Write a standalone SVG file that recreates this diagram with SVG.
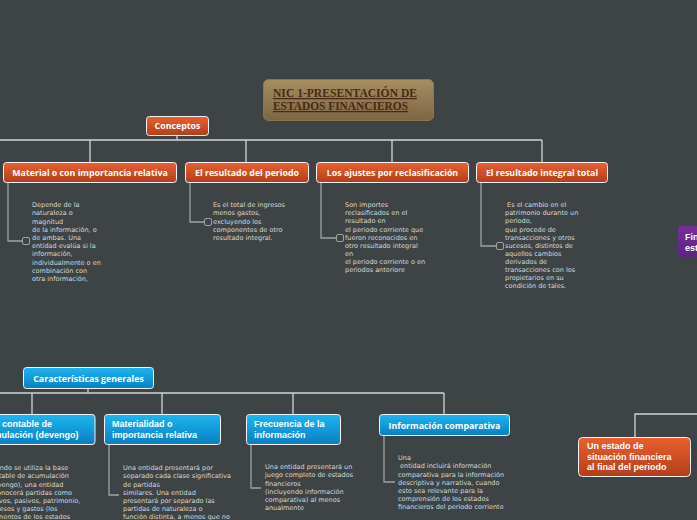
<svg xmlns="http://www.w3.org/2000/svg" width="697" height="520" viewBox="0 0 697 520">
<defs>
<linearGradient id="gOrange" x1="0" y1="0" x2="0" y2="1"><stop offset="0" stop-color="#ea6030"/><stop offset="1" stop-color="#b23e1a"/></linearGradient>
<linearGradient id="gBlue" x1="0" y1="0" x2="0" y2="1"><stop offset="0" stop-color="#1cb6f2"/><stop offset="1" stop-color="#0a7ec0"/></linearGradient>
<linearGradient id="gTan" x1="0" y1="0" x2="0" y2="1"><stop offset="0" stop-color="#a68e60"/><stop offset="1" stop-color="#7c6644"/></linearGradient>
<linearGradient id="gPurple" x1="0" y1="0" x2="0" y2="1"><stop offset="0" stop-color="#74309a"/><stop offset="1" stop-color="#5c2480"/></linearGradient>
<style>
.bg{fill:#3e4446}
.orange{fill:url(#gOrange);stroke:#f2f2f2;stroke-width:1}
.blue{fill:url(#gBlue);stroke:#f2f2f2;stroke-width:1}
.lbl{font-family:"Open Sans","Noto Sans",sans-serif;font-weight:bold;font-size:8.8px;fill:#ffffff}
.lbl2{font-family:"Liberation Sans",Arial,sans-serif;font-weight:bold;font-size:9px;fill:#ffffff}
.body{font-family:"DejaVu Sans",Verdana,sans-serif;font-size:6.5px;fill:#d6d8d8}
.main{fill:none;stroke:#d2d4d4;stroke-width:1.3}
.sub{fill:none;stroke:#9ea2a2;stroke-width:1.3}
.chk{fill:none;stroke:#9ea2a2;stroke-width:1;}
.title{font-family:"Liberation Serif","Times New Roman",serif;font-weight:bold;font-size:12.5px;fill:#4a2816;text-decoration:underline}
</style>
</defs>
<rect class="bg" x="0" y="0" width="697" height="520"/>

<g id="connectors">
<path class="main" d="M177 135V140M0 140H542M90 140V162M246 140V162M392 140V162M542 140V162"/>
<path class="main" d="M88 388V393M0 393H444M32 393V414M162 393V414M293 393V414M444 393V415"/>
<path class="main" d="M635 437V414H697"/>
<path class="sub" d="M8 182V241H22M190 183V222H204M321 183V238H336M481 183V246H496"/>
<path class="sub" d="M109 444V495H119M251 444V488H261M384 435V482H395"/>
<rect class="chk" x="22.5" y="237.5" width="7" height="7" rx="1.5"/>
<rect class="chk" x="204.5" y="218.5" width="7" height="7" rx="1.5"/>
<rect class="chk" x="336.5" y="234.5" width="7" height="7" rx="1.5"/>
<rect class="chk" x="496.5" y="242.5" width="7" height="7" rx="1.5"/>
</g>

<g id="title">
<rect x="263.5" y="79.5" width="170" height="41" rx="5" fill="url(#gTan)" stroke="#8c7650" stroke-width="1"/>
<text class="title" x="273" y="97" textLength="144" lengthAdjust="spacingAndGlyphs">NIC 1-PRESENTACIÓN DE</text>
<text class="title" x="273" y="110" textLength="135" lengthAdjust="spacingAndGlyphs">ESTADOS FINANCIEROS</text>
</g>

<g id="conceptos">
<rect class="orange" x="146.5" y="116.5" width="62" height="19" rx="3"/>
<text class="lbl" x="177.5" y="129" text-anchor="middle">Conceptos</text>
</g>

<g id="material">
<rect class="orange" x="3.5" y="162.5" width="173" height="20" rx="3"/>
<text class="lbl" x="90" y="175.5" text-anchor="middle">Material o con importancia relativa</text>
<text class="body" x="32" y="207.2"><tspan x="32">Depende de la</tspan><tspan x="32" dy="8.2">naturaleza o</tspan><tspan x="32" dy="8.2">magnitud</tspan><tspan x="32" dy="8.2">de la información, o</tspan><tspan x="32" dy="8.2">de ambas. Una</tspan><tspan x="32" dy="8.2">entidad evalúa si la</tspan><tspan x="32" dy="8.2">información,</tspan><tspan x="32" dy="8.2">individualmente o en</tspan><tspan x="32" dy="8.2">combinación con</tspan><tspan x="32" dy="8.2">otra información,</tspan></text>
</g>

<g id="resultado-periodo">
<rect class="orange" x="185.5" y="162.5" width="123" height="20" rx="3"/>
<text class="lbl" x="247" y="175.5" text-anchor="middle">El resultado del periodo</text>
<text class="body" x="213" y="207.2"><tspan x="213">Es el total de ingresos</tspan><tspan x="213" dy="8.2">menos gastos,</tspan><tspan x="213" dy="8.2">excluyendo los</tspan><tspan x="213" dy="8.2">componentes de otro</tspan><tspan x="213" dy="8.2">resultado integral.</tspan></text>
</g>

<g id="ajustes">
<rect class="orange" x="316.5" y="162.5" width="152" height="20" rx="3"/>
<text class="lbl" x="392.5" y="175.5" text-anchor="middle">Los ajustes por reclasificación</text>
<text class="body" x="345" y="207.2"><tspan x="345">Son importes</tspan><tspan x="345" dy="8.1">reclasificados en el</tspan><tspan x="345" dy="8.1">resultado en</tspan><tspan x="345" dy="8.1">el periodo corriente que</tspan><tspan x="345" dy="8.1">fueron reconocidos en</tspan><tspan x="345" dy="8.1">otro resultado integral</tspan><tspan x="345" dy="8.1">en</tspan><tspan x="345" dy="8.1">el periodo corriente o en</tspan><tspan x="345" dy="8.1">periodos anteriore</tspan></text>
</g>

<g id="integral-total">
<rect class="orange" x="476.5" y="162.5" width="131" height="20" rx="3"/>
<text class="lbl" x="542" y="175.5" text-anchor="middle">El resultado integral total</text>
<text class="body" x="505" y="207.2" xml:space="preserve"><tspan x="505"> Es el cambio en el</tspan><tspan x="505" dy="8.1">patrimonio durante un</tspan><tspan x="505" dy="8.1">periodo,</tspan><tspan x="505" dy="8.1">que procede de</tspan><tspan x="505" dy="8.1">transacciones y otros</tspan><tspan x="505" dy="8.1">sucesos, distintos de</tspan><tspan x="505" dy="8.1">aquellos cambios</tspan><tspan x="505" dy="8.1">derivados de</tspan><tspan x="505" dy="8.1">transacciones con los</tspan><tspan x="505" dy="8.1">propietarios en su</tspan><tspan x="505" dy="8.1">condición de tales.</tspan></text>
</g>

<g id="finalidad">
<rect x="678" y="226" width="60" height="31" rx="4" fill="url(#gPurple)"/>
<text class="lbl2" x="685" y="239.5">Finalidad de los</text>
<text class="lbl2" x="685" y="250.5">estados financieros</text>
</g>

<g id="caracteristicas">
<rect class="blue" x="23.5" y="367.5" width="130" height="21" rx="3"/>
<text class="lbl" x="88.5" y="381.5" text-anchor="middle">Características generales</text>
</g>

<g id="base-contable">
<rect class="blue" x="-34" y="414.5" width="129" height="30" rx="3"/>
<text class="lbl2" x="-22" y="427.3">Base contable de</text>
<text class="lbl2" x="-22" y="437.5">acumulación (devengo)</text>
<text class="body" x="-13" y="470.2"><tspan x="-13">Cuando se utiliza la base</tspan><tspan x="-13" dy="8.2">contable de acumulación</tspan><tspan x="-13" dy="8.2">(devengo), una entidad</tspan><tspan x="-13" dy="8.2">reconocerá partidas como</tspan><tspan x="-13" dy="8.2">activos, pasivos, patrimonio,</tspan><tspan x="-13" dy="8.2">ingresos y gastos (los</tspan><tspan x="-13" dy="8.2">elementos de los estados</tspan></text>
</g>

<g id="materialidad">
<rect class="blue" x="104.5" y="414.5" width="116" height="30" rx="3"/>
<text class="lbl2" x="112" y="427.3">Materialidad o</text>
<text class="lbl2" x="112" y="437.5">importancia relativa</text>
<text class="body" x="123" y="470.2"><tspan x="123">Una entidad presentará por</tspan><tspan x="123" dy="8.2">separado cada clase significativa</tspan><tspan x="123" dy="8.2">de partidas</tspan><tspan x="123" dy="8.2">similares. Una entidad</tspan><tspan x="123" dy="8.2">presentará por separado las</tspan><tspan x="123" dy="8.2">partidas de naturaleza o</tspan><tspan x="123" dy="8.2">función distinta, a menos que no</tspan></text>
</g>

<g id="frecuencia">
<rect class="blue" x="246.5" y="414.5" width="94" height="30" rx="3"/>
<text class="lbl2" x="254" y="427.3">Frecuencia de la</text>
<text class="lbl2" x="254" y="437.5">información</text>
<text class="body" x="265" y="469.2"><tspan x="265">Una entidad presentará un</tspan><tspan x="265" dy="8.2">juego completo de estados</tspan><tspan x="265" dy="8.2">financieros</tspan><tspan x="265" dy="8.2">(incluyendo información</tspan><tspan x="265" dy="8.2">comparativa) al menos</tspan><tspan x="265" dy="8.2">anualmente</tspan></text>
</g>

<g id="comparativa">
<rect class="blue" x="379.5" y="414.5" width="130" height="21" rx="3"/>
<text class="lbl" x="444.5" y="428.5" text-anchor="middle">Información comparativa</text>
<text class="body" x="398" y="460.2" xml:space="preserve"><tspan x="398">Una</tspan><tspan x="398" dy="8.2"> entidad incluirá información</tspan><tspan x="398" dy="8.2">comparativa para la información</tspan><tspan x="398" dy="8.2">descriptiva y narrativa, cuando</tspan><tspan x="398" dy="8.2">esto sea relevante para la</tspan><tspan x="398" dy="8.2">comprensión de los estados</tspan><tspan x="398" dy="8.2">financieros del periodo corriente</tspan></text>
</g>

<g id="situacion">
<rect class="orange" x="578.5" y="437.5" width="112" height="39" rx="4"/>
<text class="lbl2" x="587" y="449.3">Un estado de</text>
<text class="lbl2" x="587" y="459.5">situación financiera</text>
<text class="lbl2" x="587" y="469.7">al final del periodo</text>
</g>
</svg>
